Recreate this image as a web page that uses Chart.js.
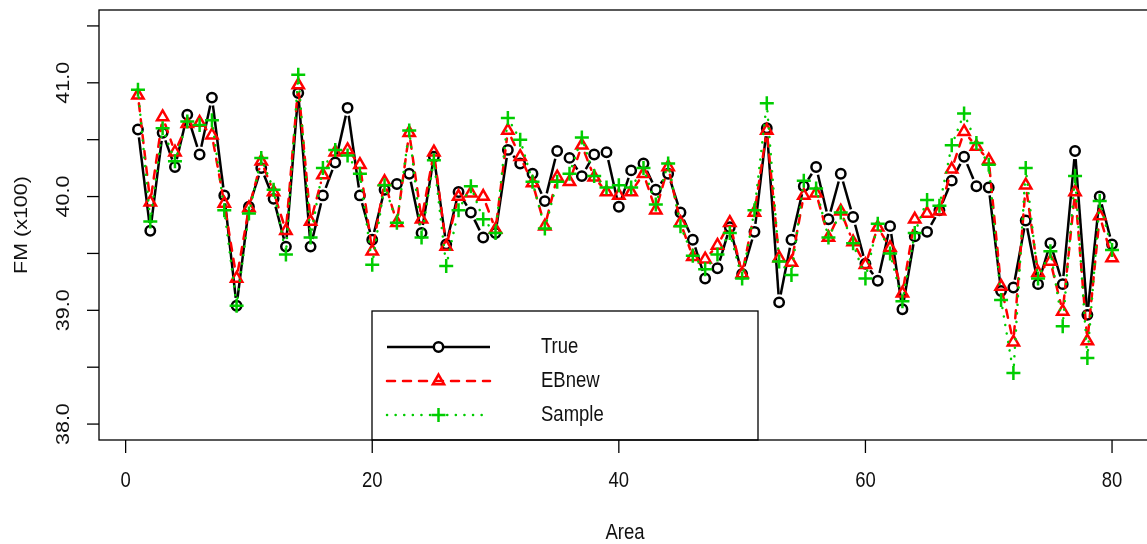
<!DOCTYPE html>
<html lang="en">
<head>
  <meta charset="UTF-8" />
  <title>FM (x100) by Area</title>
  <style>
    html, body {
      margin: 0;
      padding: 0;
      overflow: hidden;
      background: #fff;
    }

    /* a bit wider than the window: the right edge of the plot box falls outside */
    #wrap {
      position: relative;
      width: 1165px;
      height: 544px;
    }
  </style>
  <script src="https://cdn.jsdelivr.net/npm/chart.js"></script>
</head>
<body>
  <div id="wrap"><canvas id="fmChart"></canvas></div>

  <script>
    const areas = [1, 2, 3, 4, 5, 6, 7, 8, 9, 10, 11, 12, 13, 14, 15, 16, 17, 18, 19, 20,
      21, 22, 23, 24, 25, 26, 27, 28, 29, 30, 31, 32, 33, 34, 35, 36, 37, 38, 39, 40,
      41, 42, 43, 44, 45, 46, 47, 48, 49, 50, 51, 52, 53, 54, 55, 56, 57, 58, 59, 60,
      61, 62, 63, 64, 65, 66, 67, 68, 69, 70, 71, 72, 73, 74, 75, 76, 77, 78, 79, 80];

    const trueVals = [40.59, 39.70, 40.56, 40.26, 40.72, 40.37, 40.87, 40.01, 39.04, 39.91,
      40.25, 39.98, 39.56, 40.91, 39.56, 40.01, 40.30, 40.78, 40.01, 39.62,
      40.06, 40.11, 40.20, 39.68, 40.35, 39.58, 40.04, 39.86, 39.64, 39.68,
      40.41, 40.29, 40.20, 39.96, 40.40, 40.34, 40.18, 40.37, 40.39, 39.91,
      40.23, 40.29, 40.06, 40.20, 39.86, 39.62, 39.28, 39.37, 39.73, 39.32,
      39.69, 40.60, 39.07, 39.62, 40.09, 40.26, 39.80, 40.20, 39.82, 39.41,
      39.26, 39.74, 39.01, 39.65, 39.69, 39.88, 40.14, 40.35, 40.09, 40.08,
      39.17, 39.20, 39.79, 39.23, 39.59, 39.23, 40.40, 38.96, 40.00, 39.58];

    const ebnewVals = [40.89, 39.95, 40.70, 40.39, 40.64, 40.65, 40.54, 39.94, 39.28, 39.90,
      40.31, 40.04, 39.70, 40.98, 39.78, 40.19, 40.39, 40.41, 40.28, 39.52,
      40.13, 39.77, 40.56, 39.80, 40.39, 39.56, 40.00, 40.03, 40.00, 39.71,
      40.58, 40.35, 40.12, 39.74, 40.17, 40.13, 40.45, 40.17, 40.04, 40.01,
      40.04, 40.20, 39.88, 40.26, 39.77, 39.47, 39.45, 39.57, 39.77, 39.32,
      39.86, 40.58, 39.46, 39.42, 40.01, 40.03, 39.64, 39.87, 39.60, 39.40,
      39.73, 39.55, 39.15, 39.80, 39.85, 39.87, 40.24, 40.57, 40.44, 40.32,
      39.21, 38.72, 40.10, 39.33, 39.43, 38.99, 40.04, 38.73, 39.83, 39.46];

    const sampleVals = [40.94, 39.78, 40.60, 40.31, 40.66, 40.63, 40.67, 39.88, 39.04, 39.85,
      40.34, 40.06, 39.49, 41.07, 39.64, 40.25, 40.41, 40.36, 40.20, 39.40,
      40.10, 39.77, 40.58, 39.64, 40.32, 39.39, 39.88, 40.09, 39.80, 39.68,
      40.69, 40.50, 40.13, 39.72, 40.13, 40.20, 40.52, 40.18, 40.08, 40.10,
      40.08, 40.25, 39.93, 40.29, 39.74, 39.48, 39.36, 39.49, 39.68, 39.28,
      39.88, 40.82, 39.43, 39.31, 40.14, 40.07, 39.64, 39.86, 39.59, 39.28,
      39.76, 39.50, 39.08, 39.68, 39.97, 39.92, 40.45, 40.73, 40.47, 40.28,
      39.09, 38.45, 40.25, 39.28, 39.52, 38.86, 40.18, 38.58, 39.96, 39.53];

    const xTicks = [0, 20, 40, 60, 80];
    const yTicks = [38.0, 38.5, 39.0, 39.5, 40.0, 40.5, 41.0, 41.5];
    const yTickLabels = ['38.0', '', '39.0', '', '40.0', '', '41.0', ''];

    const seriesNames = ['True', 'EBnew', 'Sample'];

    const FONT = '18.5px "Liberation Sans", Arial, sans-serif';
    const STRETCH = 1.16;
    const GAP = 8; // space left between a segment end and its point

    const toPoints = vals => areas.map((a, i) => ({ x: a, y: vals[i] }));

    // text drawn a little taller than wide
    function putText(ctx, str, px, py, rotated) {
      ctx.save();
      ctx.translate(px, py);
      ctx.scale(1, STRETCH);
      if (rotated) ctx.rotate(-Math.PI / 2);
      ctx.fillText(str, 0, 0);
      ctx.restore();
    }

    function drawMarker(ctx, style, x, y, r) {
      ctx.beginPath();
      if (style === 'circle') {
        ctx.arc(x, y, r, 0, Math.PI * 2);
      } else if (style === 'triangle') {
        ctx.moveTo(x, y - r);
        ctx.lineTo(x + r * Math.sin(Math.PI * 2 / 3), y - r * Math.cos(Math.PI * 2 / 3));
        ctx.lineTo(x - r * Math.sin(Math.PI * 2 / 3), y - r * Math.cos(Math.PI * 2 / 3));
        ctx.closePath();
      } else {
        ctx.moveTo(x - r, y); ctx.lineTo(x + r, y);
        ctx.moveTo(x, y - r); ctx.lineTo(x, y + r);
      }
      ctx.stroke();
    }

    // "both" style lines: each segment stops short of the points it joins
    const gappedLines = {
      id: 'gappedLines',
      beforeDatasetDraw(chart, args) {
        const ds = chart.data.datasets[args.index];
        const pts = args.meta.data;
        const { ctx, chartArea: a } = chart;
        ctx.save();
        ctx.beginPath();
        ctx.rect(a.left, a.top, a.right - a.left, a.bottom - a.top);
        ctx.clip();
        ctx.strokeStyle = ds.borderColor;
        ctx.lineWidth = ds.borderWidth;
        ctx.lineCap = ds.borderCapStyle || 'butt';
        ctx.setLineDash(ds.borderDash || []);
        for (let i = 1; i < pts.length; i++) {
          const p0 = pts[i - 1], p1 = pts[i];
          const dx = p1.x - p0.x, dy = p1.y - p0.y;
          const len = Math.hypot(dx, dy);
          if (len <= 2 * GAP) continue;
          const ux = dx / len, uy = dy / len;
          ctx.beginPath();
          ctx.moveTo(p0.x + ux * GAP, p0.y + uy * GAP);
          ctx.lineTo(p1.x - ux * GAP, p1.y - uy * GAP);
          ctx.stroke();
        }
        ctx.restore();
      }
    };

    // box, ticks, tick labels and axis titles in the plain R look
    const boxAxes = {
      id: 'boxAxes',
      afterDraw(chart) {
        const { ctx, chartArea: a, scales: { x, y } } = chart;
        ctx.save();
        ctx.strokeStyle = '#000';
        ctx.lineWidth = 1.3;
        ctx.setLineDash([]);
        ctx.strokeRect(a.left, a.top, a.right - a.left, a.bottom - a.top);

        ctx.fillStyle = '#111';
        ctx.font = FONT;
        ctx.textAlign = 'center';
        ctx.textBaseline = 'middle';

        yTicks.forEach((v, i) => {
          const py = y.getPixelForValue(v);
          ctx.beginPath();
          ctx.moveTo(a.left - 12, py);
          ctx.lineTo(a.left, py);
          ctx.stroke();
          if (yTickLabels[i]) putText(ctx, yTickLabels[i], 64, py, true);
        });

        xTicks.forEach(v => {
          const px = x.getPixelForValue(v);
          ctx.beginPath();
          ctx.moveTo(px, a.bottom);
          ctx.lineTo(px, a.bottom + 13);
          ctx.stroke();
          putText(ctx, String(v), px, 481, false);
        });

        putText(ctx, 'Area', (a.left + a.right) / 2, 533, false);
        putText(ctx, 'FM (x100)', 22, (a.top + a.bottom) / 2, true);
        ctx.restore();
      }
    };

    // framed legend sitting on the bottom of the plot box
    const boxLegend = {
      id: 'boxLegend',
      afterDatasetsDraw(chart) {
        const { ctx, chartArea: a } = chart;
        const left = 372, right = 758, top = 311;
        ctx.save();
        ctx.fillStyle = '#fff';
        ctx.fillRect(left, top, right - left, a.bottom - top);
        ctx.strokeStyle = '#000';
        ctx.lineWidth = 1.3;
        ctx.strokeRect(left, top, right - left, a.bottom - top);

        chart.data.datasets.forEach((ds, i) => {
          const rowY = 347 + i * 34;
          ctx.strokeStyle = ds.borderColor;
          ctx.lineWidth = ds.borderWidth;
          ctx.lineCap = ds.borderCapStyle || 'butt';
          ctx.setLineDash(ds.borderDash || []);
          ctx.beginPath();
          ctx.moveTo(387, rowY);
          ctx.lineTo(490, rowY);
          ctx.stroke();

          ctx.setLineDash([]);
          ctx.lineCap = 'butt';
          ctx.lineWidth = ds.pointBorderWidth;
          if (ds.pointStyle === 'circle') {
            ctx.fillStyle = '#fff';
            ctx.beginPath();
            ctx.arc(438.5, rowY, ds.pointRadius, 0, Math.PI * 2);
            ctx.fill();
          }
          drawMarker(ctx, ds.pointStyle, 438.5, rowY, ds.pointRadius);

          ctx.fillStyle = '#111';
          ctx.font = FONT;
          ctx.textAlign = 'left';
          ctx.textBaseline = 'middle';
          putText(ctx, seriesNames[i], 541, rowY, false);
        });
        ctx.restore();
      }
    };

    const ctx = document.getElementById('fmChart').getContext('2d');
    new Chart(ctx, {
      type: 'line',
      data: {
        datasets: [
          {
            label: seriesNames[0],
            data: toPoints(trueVals),
            showLine: false,
            borderColor: '#000000',
            borderWidth: 2.5,
            pointStyle: 'circle',
            pointRadius: 4.7,
            pointBorderWidth: 2.5,
            pointBorderColor: '#000000',
            pointBackgroundColor: 'rgba(0,0,0,0)',
            order: 2
          },
          {
            label: seriesNames[1],
            data: toPoints(ebnewVals),
            showLine: false,
            borderColor: '#ff0000',
            borderWidth: 2.5,
            borderDash: [8, 8],
            borderCapStyle: 'round',
            pointStyle: 'triangle',
            pointRadius: 6.5,
            pointBorderWidth: 2.5,
            pointBorderColor: '#ff0000',
            pointBackgroundColor: 'rgba(0,0,0,0)',
            order: 1
          },
          {
            label: seriesNames[2],
            data: toPoints(sampleVals),
            showLine: false,
            borderColor: '#00cd00',
            borderWidth: 2.5,
            borderDash: [0.1, 8.5],
            borderCapStyle: 'round',
            pointStyle: 'cross',
            pointRadius: 7,
            pointBorderWidth: 2.5,
            pointBorderColor: '#00cd00',
            pointBackgroundColor: 'rgba(0,0,0,0)',
            order: 0
          }
        ]
      },
      options: {
        responsive: true,
        maintainAspectRatio: false,
        animation: false,
        layout: {
          padding: { left: 99, top: 10, right: 14, bottom: 104 }
        },
        plugins: {
          legend: { display: false },
          tooltip: { enabled: false }
        },
        scales: {
          x: { type: 'linear', display: false, min: -2.16, max: 83.16 },
          y: { display: false, min: 37.86, max: 41.64 }
        }
      },
      plugins: [gappedLines, boxLegend, boxAxes]
    });
  </script>
</body>
</html>
